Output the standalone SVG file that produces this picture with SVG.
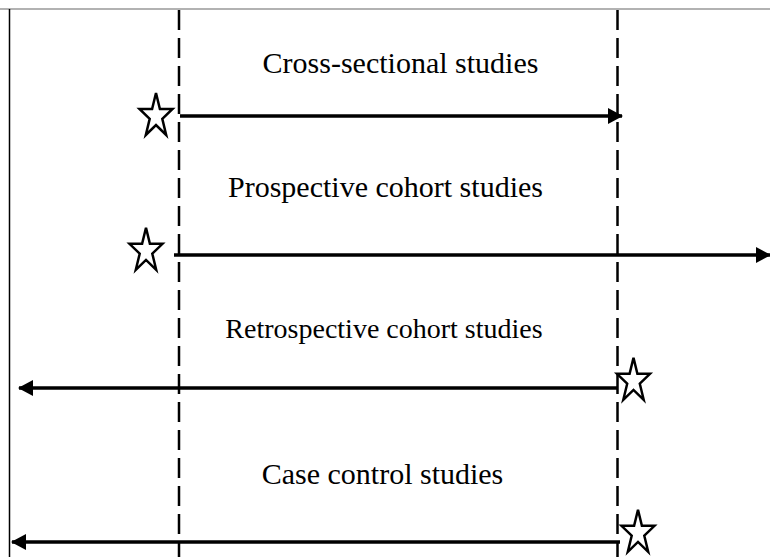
<svg xmlns="http://www.w3.org/2000/svg" width="770" height="557" viewBox="0 0 770 557">
<style>
.t{font-family:"Liberation Serif","Times New Roman",serif;font-size:30px;fill:#000;text-anchor:middle}
.dash{stroke:#000;stroke-width:2.5;stroke-dasharray:20 8;fill:none}
.arr{stroke:#000;stroke-width:3.5;fill:none}
.star{fill:#fff;stroke:#000;stroke-width:2.5;stroke-linejoin:miter}
</style>
<defs>
<marker id="ah" viewBox="0 0 15 16" refX="14" refY="8" markerWidth="15" markerHeight="16" markerUnits="userSpaceOnUse" orient="auto">
<path d="M0,0 L15,8 L0,16 Z" fill="#000"/>
</marker>
<polygon id="star" points="0,-23.2 3.9,-7.2 16.5,-7.2 6.3,2.7 10.2,18.8 0,8.9 -10.2,18.8 -6.3,2.7 -16.5,-7.2 -3.9,-7.2"/>
</defs>
<rect width="770" height="557" fill="#fff"/>
<g id="frame">
<line x1="0" y1="9" x2="770" y2="9" stroke="#999" stroke-width="1.5"/>
<line x1="9.5" y1="9" x2="9.5" y2="557" stroke="#000" stroke-width="1.5"/>
</g>
<g id="timelines">
<line class="dash" x1="179" y1="10" x2="179" y2="557"/>
<line class="dash" x1="617.5" y1="10" x2="617.5" y2="557"/>
</g>
<g id="connectors">
<line class="arr" x1="180" y1="116" x2="622" y2="116" marker-end="url(#ah)"/>
<line class="arr" x1="174" y1="255" x2="770" y2="255" marker-end="url(#ah)"/>
<line class="arr" x1="617" y1="388" x2="19" y2="388" marker-end="url(#ah)"/>
<line class="arr" x1="620" y1="542" x2="12" y2="542" marker-end="url(#ah)"/>
</g>
<g id="cross-sectional">
<text class="t" x="400.5" y="73">Cross-sectional studies</text>
<use href="#star" class="star" transform="translate(156,116.2)"/>
</g>
<g id="prospective">
<text class="t" x="385.5" y="197">Prospective cohort studies</text>
<use href="#star" class="star" transform="translate(146,251)"/>
</g>
<g id="retrospective">
<text class="t" x="384" y="338" style="font-size:28px">Retrospective cohort studies</text>
<use href="#star" class="star" transform="translate(633.5,381)"/>
</g>
<g id="case-control">
<text class="t" x="382.5" y="484">Case control studies</text>
<use href="#star" class="star" transform="translate(638,533)"/>
</g>
</svg>
